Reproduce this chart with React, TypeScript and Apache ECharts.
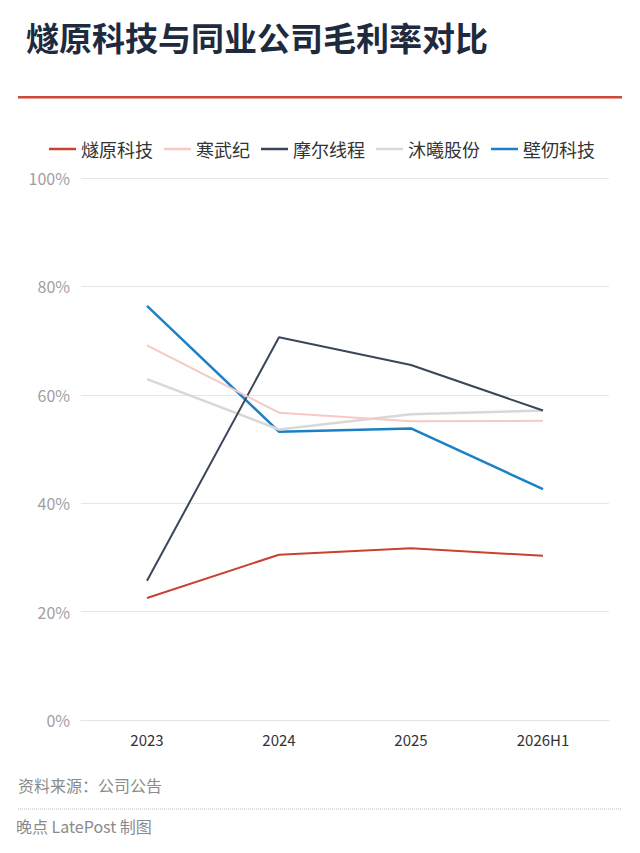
import { useEffect, useRef } from 'react'
import * as echarts from 'echarts'

const categories = ['2023', '2024', '2025', '2026H1']
const seriesNames = ['燧原科技', '寒武纪', '摩尔线程', '沐曦股份', '壁仞科技']
const suiyuan = [22.5, 30.5, 31.7, 30.3]
const cambricon = [69.1, 56.7, 55.1, 55.2]
const moore = [25.7, 70.6, 65.5, 57.1]
const muxi = [62.9, 53.6, 56.4, 57.1]
const biren = [76.4, 53.2, 53.8, 42.6]
const colors = ['#c9412f', '#f5c9c4', '#3a4659', '#d8d8d8', '#1c80c6']

const FONT = '"Noto Sans CJK SC", "Noto Sans", sans-serif'

export default function App() {
  const chartRef = useRef<HTMLDivElement>(null)

  useEffect(() => {
    document.body.style.margin = '0'
    if (!chartRef.current) return
    const chart = echarts.init(chartRef.current, null, { renderer: 'svg' })

    const values = [suiyuan, cambricon, moore, muxi, biren]
    const widths = [2, 2, 2, 2.5, 2.5]

    const option: any = {
      animation: false,
      backgroundColor: '#fff',
      textStyle: { fontFamily: FONT },
      color: colors,
      legend: {
        top: 135,
        left: 44,
        icon: 'rect',
        itemWidth: 27,
        itemHeight: 2.5,
        itemGap: 11,
        textStyle: { fontSize: 18, color: '#333', fontFamily: FONT },
        data: seriesNames,
      },
      grid: { left: 81, right: 31, top: 178, bottom: 133 },
      xAxis: {
        type: 'category',
        data: categories,
        boundaryGap: true,
        axisLine: { show: true, lineStyle: { color: '#e2e4ec', width: 1 } },
        axisTick: { show: false },
        axisLabel: { color: '#333', fontSize: 15, margin: 12, fontFamily: FONT },
      },
      yAxis: {
        type: 'value',
        min: 0,
        max: 100,
        interval: 20,
        axisLine: { show: false },
        axisTick: { show: false },
        splitLine: { lineStyle: { color: '#e6e6e6', width: 1 } },
        axisLabel: {
          color: '#a0a0a0',
          fontSize: 16,
          margin: 11,
          fontFamily: FONT,
          formatter: '{value}%',
        },
      },
      series: seriesNames.map((name, i) => ({
        name,
        type: 'line',
        data: values[i],
        symbol: 'none',
        lineStyle: { width: widths[i], color: colors[i] },
        z: i === 0 ? 10 : 5 - i,
      })),
      graphic: [
        {
          type: 'text',
          left: 26,
          top: 20,
          style: {
            text: '燧原科技与同业公司毛利率对比',
            fontSize: 33,
            fontWeight: 'bold',
            fill: '#1e2a3e',
            fontFamily: FONT,
          },
        },
        {
          type: 'rect',
          shape: { x: 18, y: 96, width: 604, height: 2.5 },
          style: { fill: '#cf463a' },
        },
        {
          type: 'text',
          left: 18,
          top: 777,
          style: {
            text: '资料来源：公司公告',
            fontSize: 16,
            fill: '#8a8a8a',
            fontFamily: FONT,
          },
        },
        {
          type: 'line',
          shape: { x1: 18, y1: 809, x2: 622, y2: 809 },
          style: { stroke: '#bbbbbb', lineWidth: 1, lineDash: [1, 1] },
        },
        {
          type: 'text',
          left: 16,
          top: 818,
          style: {
            text: '晚点 LatePost 制图',
            fontSize: 16,
            fill: '#8a8a8a',
            fontFamily: FONT,
          },
        },
      ],
    }

    chart.setOption(option)

    return () => {
      chart.dispose()
    }
  }, [])

  return <div ref={chartRef} style={{ width: '640px', height: '853px' }} />
}
